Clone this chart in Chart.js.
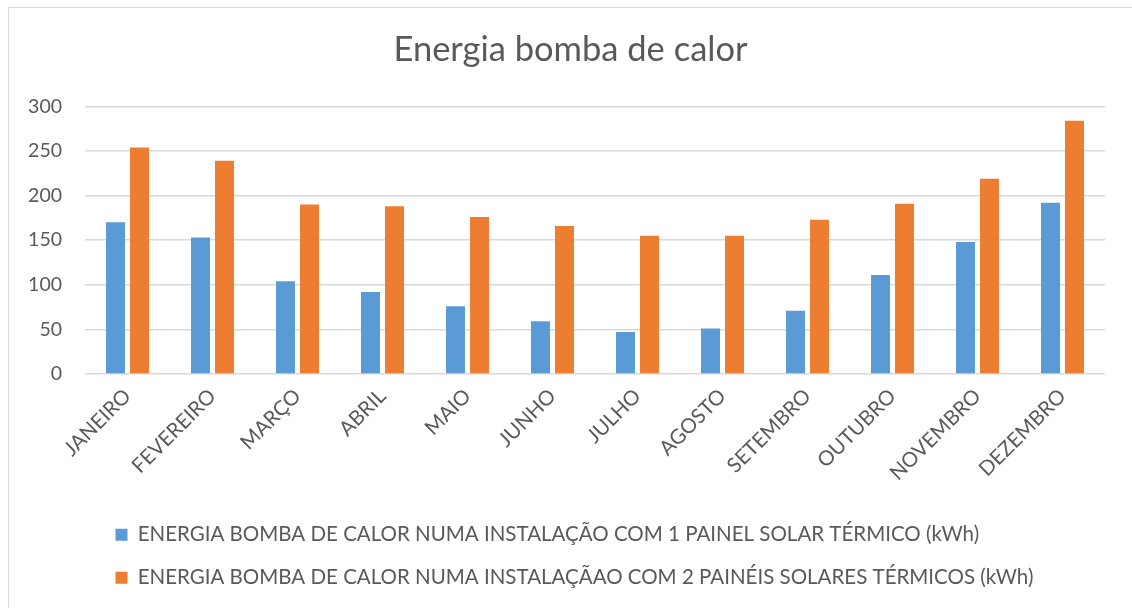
<!DOCTYPE html>
<html>
<head>
<meta charset="utf-8">
<script src="https://cdn.jsdelivr.net/npm/chart.js@4.4.1/dist/chart.umd.min.js"></script>
<style>
  html, body { margin: 0; padding: 0; background: #fff; }
  #wrap { width: 1132px; height: 608px; }
</style>
</head>
<body>
<div id="wrap"><canvas id="myChart" width="1132" height="608"></canvas></div>
<script>
var months = ["JANEIRO", "FEVEREIRO", "MARÇO", "ABRIL", "MAIO", "JUNHO", "JULHO", "AGOSTO", "SETEMBRO", "OUTUBRO", "NOVEMBRO", "DEZEMBRO"];
var um_painel = [170, 153, 104, 92, 76, 59, 47, 51, 71, 111, 148, 192];
var dois_paineis = [254, 239, 190, 188, 176, 166, 155, 155, 173, 191, 219, 284];
var label_um = "ENERGIA BOMBA DE CALOR NUMA INSTALAÇÃO COM 1 PAINEL SOLAR TÉRMICO (kWh)";
var label_dois = "ENERGIA BOMBA DE CALOR NUMA INSTALAÇÃAO COM 2 PAINÉIS SOLARES TÉRMICOS (kWh)";

var font_name = "Lato";
var text_color = "#595959";

// thin grey frame of the chart area, runs off the right and bottom edges
var frame = {
        id: "frame",
        beforeDraw: function(chart) {
                var ctx = chart.ctx;
                ctx.save();
                ctx.fillStyle = "#fff";
                ctx.fillRect(0, 0, chart.width, chart.height);
                ctx.strokeStyle = "#d9d9d9";
                ctx.lineWidth = 1;
                ctx.strokeRect(8.5, 7.5, 1300, 800);
                ctx.restore();
        },
        afterLayout: function(chart) {
                // legend rows start a little right of the plot's left edge
                chart.legend.left += 8;
                // title is centred on the whole picture, not on the padded box
                chart.titleBlock.left += 18;
                chart.titleBlock.right += 18;
        }
};

var ctx = document.getElementById("myChart");
var myChart = new Chart(ctx, {
        type: "bar",
        data: {
                labels: months,
                datasets: [{
                        label: label_um,
                        data: um_painel,
                        backgroundColor: "#5B9BD5",
                        categoryPercentage: 0.565,
                        barPercentage: 0.79
                }, {
                        label: label_dois,
                        data: dois_paineis,
                        backgroundColor: "#ED7D31",
                        categoryPercentage: 0.565,
                        barPercentage: 0.79
                }]
        },
        plugins: [frame],
        options: {
                responsive: false,
                animation: false,
                layout: {
                        padding: { left: 0, right: 27, top: 0, bottom: 10 }
                },
                scales: {
                        x: {
                                grid: { display: false },
                                border: { display: false },
                                ticks: {
                                        color: text_color,
                                        font: { family: font_name, size: 20.5 },
                                        maxRotation: 45,
                                        minRotation: 45,
                                        padding: 2
                                },
                                afterFit: function(scale) { scale.height = 128; }
                        },
                        y: {
                                min: 0,
                                max: 300,
                                ticks: {
                                        stepSize: 50,
                                        color: text_color,
                                        font: { family: font_name, size: 19.5 },
                                        padding: 23
                                },
                                grid: { color: "#d9d9d9", lineWidth: 1.5, drawTicks: false },
                                border: { display: false },
                                afterFit: function(scale) { scale.width = 85; }
                        }
                },
                plugins: {
                        title: {
                                display: true,
                                text: "Energia bomba de calor",
                                color: text_color,
                                font: { family: font_name, size: 34.5, weight: "normal" },
                                padding: { top: 29, bottom: 36 }
                        },
                        legend: {
                                position: "bottom",
                                align: "start",
                                fullSize: false,
                                labels: {
                                        color: text_color,
                                        font: { family: font_name, size: 20.5 },
                                        boxWidth: 12,
                                        boxHeight: 12,
                                        padding: 22.5
                                }
                        },
                        tooltip: { enabled: false }
                }
        }
});
</script>
</body>
</html>
